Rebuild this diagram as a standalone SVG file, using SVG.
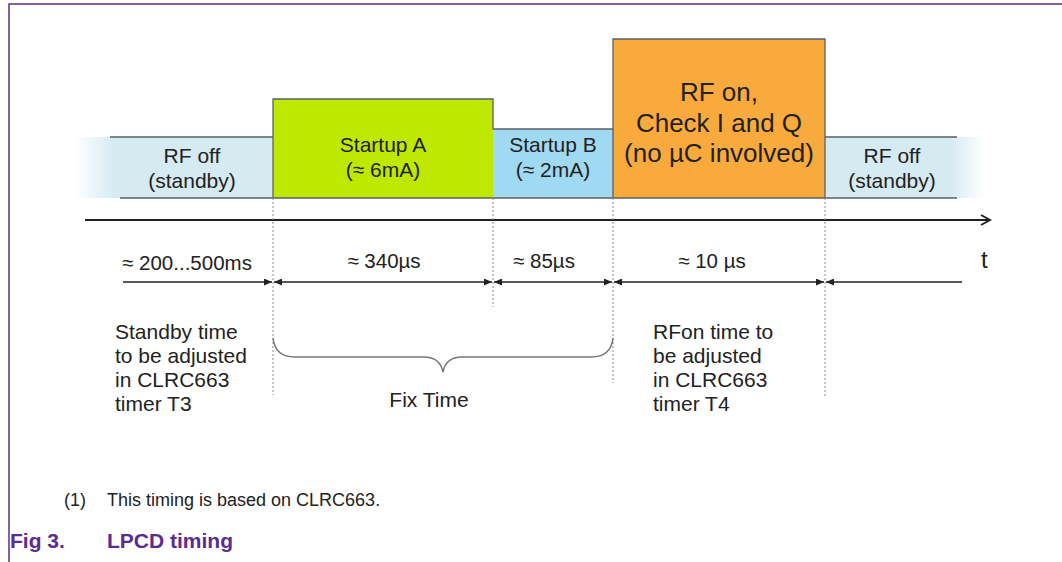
<svg xmlns="http://www.w3.org/2000/svg" width="1062" height="562" viewBox="0 0 1062 562">
<style>
text{font-family:"Liberation Sans",Arial,sans-serif;fill:#222}
.lbl{font-size:21px;text-anchor:middle}
.dl{font-size:20.5px;text-anchor:middle}
.big{font-size:26px;text-anchor:middle}
.note{font-size:21px}
.dim{stroke:#222;stroke-width:1.5;fill:none}
.dot{stroke:#8a8a8a;stroke-width:1;stroke-dasharray:2,2;fill:none}
.edge{stroke:#5a6068;stroke-width:1.3;fill:none}
.cap{font-size:21px;font-weight:bold;fill:#5b2c8f}
</style>
<defs>
<linearGradient id="fadeL" x1="75" y1="0" x2="273" y2="0" gradientUnits="userSpaceOnUse">
<stop offset="0" stop-color="#d6eaf2" stop-opacity="0"/>
<stop offset="0.2" stop-color="#d6eaf2"/>
<stop offset="1" stop-color="#d6eaf2"/>
</linearGradient>
<linearGradient id="fadeR" x1="825" y1="0" x2="985" y2="0" gradientUnits="userSpaceOnUse">
<stop offset="0" stop-color="#d6eaf2"/>
<stop offset="0.78" stop-color="#d6eaf2"/>
<stop offset="1" stop-color="#d6eaf2" stop-opacity="0"/>
</linearGradient>
<marker id="ah" markerUnits="userSpaceOnUse" markerWidth="9" markerHeight="7" refX="8" refY="3.5" orient="auto-start-reverse">
<path d="M0,0 L8,3.5 L0,7 z" fill="#222"/>
</marker>
<marker id="chev" markerUnits="userSpaceOnUse" markerWidth="12" markerHeight="12" refX="10" refY="6" orient="auto">
<path d="M1,1 L10,6 L1,11" fill="none" stroke="#222" stroke-width="2"/>
</marker>
</defs>

<!-- frame -->
<path d="M9,562 V4 H1062" fill="none" stroke="#5b2c8f" stroke-width="1.5"/>

<g id="rf-off-left">
<rect x="75" y="137" width="198" height="61" fill="url(#fadeL)"/>
<text class="lbl" x="192" y="163">RF off</text>
<text class="lbl" x="192" y="188">(standby)</text>
</g>
<g id="startup-a">
<rect x="273" y="99" width="220" height="99" fill="#bfe800"/>
<text class="lbl" x="383" y="152">Startup A</text>
<text class="lbl" x="383" y="177">(≈ 6mA)</text>
</g>
<g id="startup-b">
<rect x="493" y="129" width="120" height="69" fill="#a0d9f2"/>
<text class="lbl" x="553" y="152">Startup B</text>
<text class="lbl" x="553" y="177">(≈ 2mA)</text>
</g>
<g id="rf-on">
<rect x="613" y="39" width="212" height="159" fill="#f9aa3c"/>
<text class="big" x="719" y="101">RF on,</text>
<text class="big" x="719" y="132">Check I and Q</text>
<text class="big" x="719" y="162">(no µC involved)</text>
</g>
<g id="rf-off-right">
<rect x="825" y="137" width="160" height="61" fill="url(#fadeR)"/>
<text class="lbl" x="892" y="163">RF off</text>
<text class="lbl" x="892" y="188">(standby)</text>
</g>
<g id="edges">
<path class="edge" d="M110,137 H273 M273,198 V99 H493 V129 H613 M613,198 V39 H825 V198 M825,137 H957 M120,198 H957"/>
</g>

<g id="connectors">
<path d="M85,220 H990" stroke="#222" stroke-width="2" fill="none" marker-end="url(#chev)"/>
<path class="dot" d="M273,198 V395 M493,198 V307 M613,198 V383 M825,198 V397"/>
<path class="dim" d="M123,282 H272" marker-end="url(#ah)"/>
<path class="dim" d="M274,282 H492" marker-start="url(#ah)" marker-end="url(#ah)"/>
<path class="dim" d="M494,282 H612" marker-start="url(#ah)" marker-end="url(#ah)"/>
<path class="dim" d="M614,282 H824" marker-start="url(#ah)" marker-end="url(#ah)"/>
<path class="dim" d="M826,282 H962" marker-start="url(#ah)"/>
<path d="M273,338 Q275,357 295,357 H424 Q440,357 443,372 Q446,357 462,357 H591 Q611,357 613,338" fill="none" stroke="#777" stroke-width="1.5"/>
</g>

<g id="dim-labels">
<text class="dl" x="187" y="270">≈ 200...500ms</text>
<text class="dl" x="384" y="268">≈ 340µs</text>
<text class="dl" x="544" y="268">≈ 85µs</text>
<text class="dl" x="712" y="268">≈ 10 µs</text>
<text x="981" y="268" style="font-size:24px">t</text>
<text class="lbl" x="429" y="407">Fix Time</text>
</g>

<g id="note-left">
<text class="note" x="115" y="339">Standby time</text>
<text class="note" x="115" y="363">to be adjusted</text>
<text class="note" x="115" y="387">in CLRC663</text>
<text class="note" x="115" y="411">timer T3</text>
</g>
<g id="note-right">
<text class="note" x="653" y="339">RFon time to</text>
<text class="note" x="653" y="363">be adjusted</text>
<text class="note" x="653" y="387">in CLRC663</text>
<text class="note" x="653" y="411">timer T4</text>
</g>

<g id="caption">
<text style="font-size:18px" x="64" y="506">(1)</text>
<text style="font-size:18px" x="107" y="506">This timing is based on CLRC663.</text>
<text class="cap" x="10" y="548">Fig 3.</text>
<text class="cap" x="107" y="548">LPCD timing</text>
</g>
</svg>
